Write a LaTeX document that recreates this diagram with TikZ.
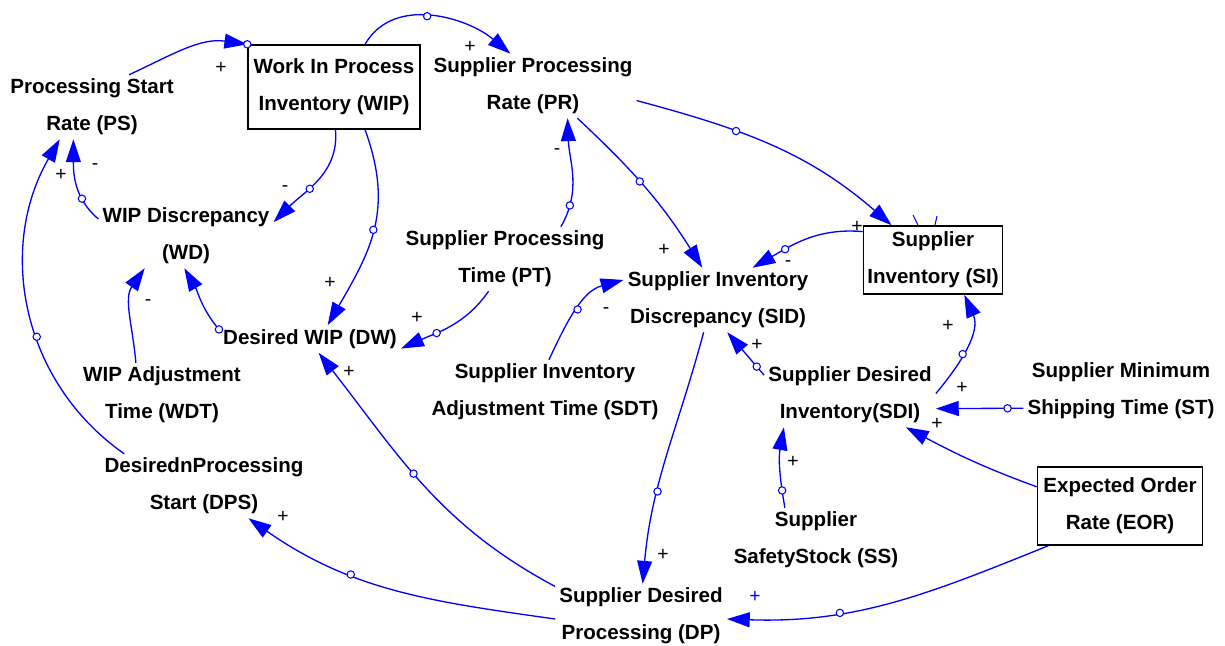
\documentclass[tikz,border=0pt]{standalone}
\usepackage{fontspec}
\setmainfont{Liberation Sans}
\usetikzlibrary{arrows.meta}
\definecolor{lk}{RGB}{0,0,255}
\begin{document}
\begin{tikzpicture}[x=0.02cm,y=0.02cm,
  txt/.style={align=center,font=\bfseries\fontsize{11.7}{21}\selectfont,inner sep=2.2pt},
  box/.style={txt,draw=black,line width=0.85pt},
  link/.style={draw=lk,line width=0.75pt,-{Triangle[length=13pt,width=8.5pt]}},
  hnd/.style={circle,draw=lk,fill=white,line width=0.6pt,inner sep=0pt,minimum size=4.2pt},
  pol/.style={font=\fontsize{11}{13}\selectfont,inner sep=0pt},
]
\useasboundingbox (0,0) rectangle (1225,-646);
% variables
\node[txt] (PS) at (92,-107) {Processing Start\\Rate (PS)};
\node[box,minimum width=3.44cm,minimum height=1.68cm] (WIP) at (334,-87) {Work In Process\\Inventory (WIP)};
\node[txt] (PR) at (533,-86) {Supplier Processing\\Rate (PR)};
\node[txt] (WD) at (186,-236) {WIP Discrepancy\\(WD)};
\node[txt] (PT) at (505,-259) {Supplier Processing\\Time (PT)};
\node[txt] (SID) at (718,-300) {Supplier Inventory\\Discrepancy (SID)};
\node[box,minimum width=2.76cm,minimum height=1.36cm] (SI) at (933,-260) {Supplier\\Inventory (SI)};
\node[txt] (DW) at (310,-339) {Desired WIP (DW)};
\node[txt] (WDT) at (162,-395) {WIP Adjustment\\Time (WDT)};
\node[txt] (SDT) at (545,-392) {Supplier Inventory\\Adjustment Time (SDT)};
\node[txt] (SDI) at (850,-395) {Supplier Desired\\Inventory(SDI)};
\node[txt] (ST) at (1121,-391) {Supplier Minimum\\Shipping Time (ST)};
\node[txt] (DPS) at (204,-486) {DesirednProcessing\\Start (DPS)};
\node[box,minimum width=3.3cm,minimum height=1.56cm] (EOR) at (1120,-506) {Expected Order\\Rate (EOR)};
\node[txt] (SS) at (816,-540) {Supplier\\SafetyStock (SS)};
\node[txt] (DP) at (641,-616) {Supplier Desired\\Processing (DP)};
% links
\draw[link] (PS.41) to[out=25,in=172] node[hnd,pos=1]{} (WIP.north west);
\draw[link] (WIP.54) to[out=60,in=140] node[hnd,pos=0.47]{} (PR.125);
\draw[link] (WD.169) to[out=140,in=-90] node[hnd,pos=0.3]{} (PS.-120);
\draw[link] (DPS.158.5) to[out=145,in=240] node[hnd,pos=0.42]{} (PS.-135);
\draw[link] (WIP.-88) to[out=-85,in=45] node[hnd,pos=0.6]{} (WD.9);
\draw[link] (WIP.-54) to[out=-70,in=60,looseness=1.1] node[hnd,pos=0.5]{} (DW.38);
\draw[link] (PT.30) to[out=60,in=-88] node[hnd,pos=0.2]{} (PR.-43.5);
\draw[link] (PR.-36.7) to[out=-43,in=122] node[hnd,pos=0.45]{} (SID.116);
\draw[link] (PR.-8) to[out=-15,in=139] node[hnd,pos=0.35]{} (SI.140);
\draw[link] (SI.158) to[out=175,in=30] node[hnd,pos=0.7]{} (SID.43.5);
\draw[link] (PT.-117) to[out=-125,in=24] node[hnd,pos=0.65]{} (DW.-6.7);
\draw[link] (SDT.83) to[out=65,in=195] node[hnd,pos=0.5]{} (SID.168);
\draw[link] (DW.174) to[out=130,in=-60] node[hnd,pos=0]{} (WD.-93);
\draw[link] (WDT.129) to[out=95,in=235] (WD.-142);
\draw[link] (DP.161) to[out=152,in=-52] node[hnd,pos=0.55]{} (DW.-58);
\draw[link] (DP.182.5) to[out=172,in=-35] node[hnd,pos=0.65]{} (DPS.-36);
\draw[link] (SID.-114) to[out=-105,in=85] node[hnd,pos=0.65]{} (DP.87);
\draw[link] (SDI.167.6) -- node[hnd,pos=0.2]{} (SID.-74);
\draw[link] (SDI.1.3) to[out=50,in=-66] node[hnd,pos=0.42]{} (SI.-48.5);
\draw[link] (ST.190) -- node[hnd,pos=0.18]{} (SDI.-9);
\draw[link] (EOR.167.6) to[out=160,in=-28] (SDI.-30);
\draw[link] (SS.134) to[out=100,in=260] node[hnd,pos=0.2]{} (SDI.-154);
\draw[link] (EOR.-151) to[out=-158,in=-2] node[hnd,pos=0.67]{} (DP.-2.5);
% stray marks
\draw[lk,line width=0.6pt] (913,-215) -- (918,-225);
\draw[lk,line width=0.6pt] (937,-216) -- (935,-225);
% polarities
\node[pol] (p1) at (221,-68) {+};
\node[pol] (p2) at (470,-47) {+};
\node[pol] (p3) at (95,-167) {-};
\node[pol] (p4) at (61,-175) {+};
\node[pol] (p5) at (285,-189) {-};
\node[pol] (p6) at (330,-283) {+};
\node[pol] (p7) at (557,-152) {-};
\node[pol] (p8) at (664,-250) {+};
\node[pol] (p9) at (857,-227) {+};
\node[pol] (p10) at (788,-264) {-};
\node[pol] (p11) at (417,-318) {+};
\node[pol] (p12) at (606,-311) {-};
\node[pol] (p13) at (148,-303) {-};
\node[pol] (p14) at (349,-372) {+};
\node[pol] (p15) at (283,-517) {+};
\node[pol] (p16) at (663,-555) {+};
\node[pol] (p17) at (757,-345) {+};
\node[pol] (p18) at (948,-326) {+};
\node[pol] (p19) at (962,-388) {+};
\node[pol] (p20) at (937,-424) {+};
\node[pol] (p21) at (793,-462) {+};
\node[pol,text=lk] (p22) at (755,-597) {+};
\end{tikzpicture}
\end{document}
